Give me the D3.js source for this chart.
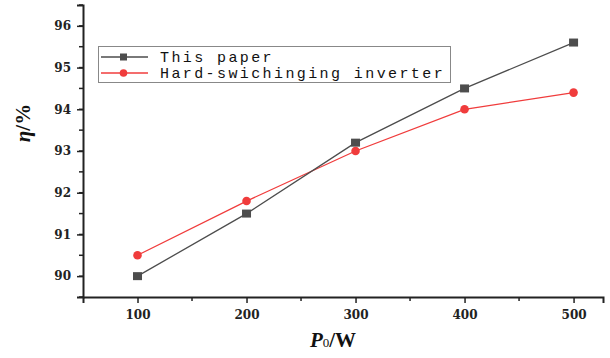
<!DOCTYPE html>
<html>
<head>
<meta charset="utf-8">
<script src="https://cdn.jsdelivr.net/npm/d3@7"></script>
<style>
  body { margin: 0; background: #fff; }
  .tick text { font-family: "DejaVu Serif", "Liberation Serif", serif; font-weight: bold; font-size: 12px; fill: #222; }
</style>
</head>
<body>
<script>
var powers = [100, 200, 300, 400, 500];
var thisPaper = [90.0, 91.5, 93.2, 94.5, 95.6];
var hardSwitching = [90.5, 91.8, 93.0, 94.0, 94.4];
var seriesNames = ["This paper", "Hard-swichinging inverter"];
var seriesColors = ["#4d4d4d", "#f03c3c"];
var yTicks = [90, 91, 92, 93, 94, 95, 96];
var xTicks = [100, 200, 300, 400, 500];

var width = 610, height = 358;
var svg = d3.select("body").append("svg")
    .attr("width", width)
    .attr("height", height);

var x = d3.scaleLinear().domain([50, 527]).range([83, 603]);
var y = d3.scaleLinear().domain([89.5, 96.5]).range([297, 5]);

// minor ticks
var g = svg.append("g");
g.selectAll("line.ym").data(d3.range(89.5, 96.6, 0.5)).enter().append("line")
    .attr("x1", 79).attr("x2", 83)
    .attr("y1", function (d) { return y(d); }).attr("y2", function (d) { return y(d); })
    .attr("stroke", "#222").attr("stroke-width", 1.5);
g.selectAll("line.xm").data([150, 250, 350, 450]).enter().append("line")
    .attr("y1", 297).attr("y2", 301)
    .attr("x1", function (d) { return x(d); }).attr("x2", function (d) { return x(d); })
    .attr("stroke", "#222").attr("stroke-width", 1.5);

var yAxis = svg.append("g").attr("transform", "translate(83,0)")
    .call(d3.axisLeft(y).tickValues(yTicks).tickSize(6).tickPadding(6).tickFormat(d3.format("d")));
var xAxis = svg.append("g").attr("transform", "translate(0,297)")
    .call(d3.axisBottom(x).tickValues(xTicks).tickSize(6).tickPadding(7).tickFormat(d3.format("d")));
[yAxis, xAxis].forEach(function (a) {
  a.select(".domain").attr("stroke", "#222").attr("stroke-width", 2);
  a.selectAll(".tick line").attr("stroke", "#222").attr("stroke-width", 1.5);
});

var line = d3.line()
    .x(function (d, i) { return x(powers[i]); })
    .y(function (d) { return y(d); });

// hard-switching (red, circles)
svg.append("path").datum(hardSwitching)
    .attr("d", line).attr("fill", "none")
    .attr("stroke", seriesColors[1]).attr("stroke-width", 1.3);
svg.selectAll("circle.h").data(hardSwitching).enter().append("circle")
    .attr("cx", function (d, i) { return x(powers[i]); })
    .attr("cy", function (d) { return y(d); })
    .attr("r", 4.3).attr("fill", seriesColors[1]);

// this paper (grey, squares)
svg.append("path").datum(thisPaper)
    .attr("d", line).attr("fill", "none")
    .attr("stroke", seriesColors[0]).attr("stroke-width", 1.3);
svg.selectAll("rect.p").data(thisPaper).enter().append("rect")
    .attr("x", function (d, i) { return x(powers[i]) - 4.5; })
    .attr("y", function (d) { return y(d) - 4; })
    .attr("width", 9).attr("height", 8).attr("fill", seriesColors[0]);

// legend
var leg = svg.append("g");
leg.append("rect").attr("x", 98.5).attr("y", 46.5).attr("width", 352).attr("height", 36)
    .attr("fill", "#fff").attr("stroke", "#888").attr("stroke-width", 1);
seriesNames.forEach(function (name, i) {
  var cy = 57 + i * 16;
  leg.append("line").attr("x1", 101).attr("x2", 148).attr("y1", cy).attr("y2", cy)
      .attr("stroke", seriesColors[i]).attr("stroke-width", 1.3);
  if (i === 0) {
    leg.append("rect").attr("x", 120).attr("y", cy - 3.5).attr("width", 7).attr("height", 7).attr("fill", seriesColors[i]);
  } else {
    leg.append("circle").attr("cx", 123.5).attr("cy", cy).attr("r", 3.8).attr("fill", seriesColors[i]);
  }
  leg.append("text").attr("x", 160).attr("y", cy + 5)
      .attr("font-family", "'Liberation Mono', 'DejaVu Sans Mono', monospace")
      .attr("font-size", "15px").attr("letter-spacing", "2.4px").attr("fill", "#111")
      .text(name);
});

// axis titles
svg.append("text")
    .attr("transform", "translate(30,123) rotate(-90)")
    .attr("text-anchor", "middle")
    .attr("font-family", "'Liberation Serif', 'DejaVu Serif', serif")
    .attr("font-weight", "bold").attr("font-size", "21px").attr("fill", "#111")
    .html('<tspan font-style="italic">η</tspan>/%');

var xt = svg.append("text")
    .attr("x", 333).attr("y", 347)
    .attr("text-anchor", "middle")
    .attr("font-family", "'Liberation Serif', 'DejaVu Serif', serif")
    .attr("font-weight", "bold").attr("font-size", "21px").attr("fill", "#111");
xt.append("tspan").attr("font-style", "italic").text("P");
xt.append("tspan").attr("font-size", "13px").attr("font-weight", "normal").text("0");
xt.append("tspan").text("/W");
</script>
</body>
</html>
